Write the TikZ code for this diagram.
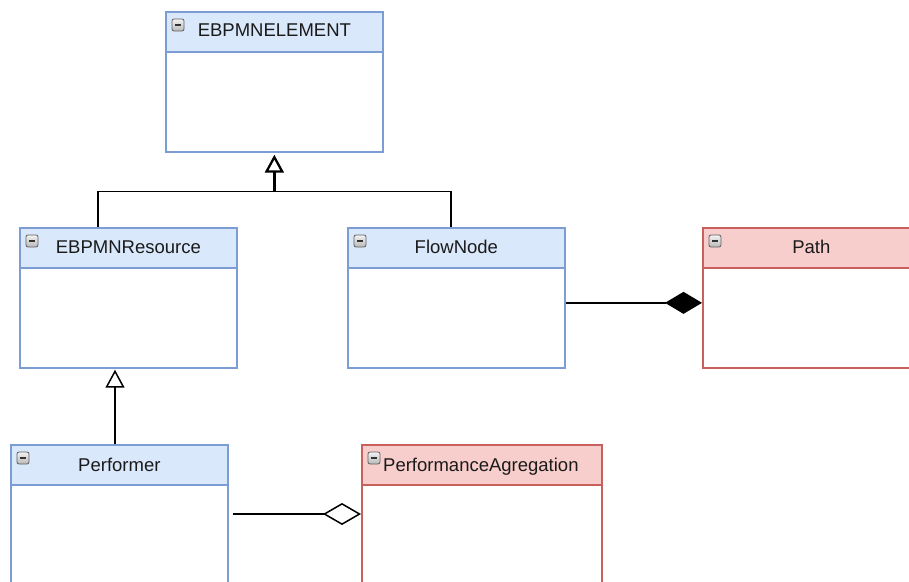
\documentclass[tikz,border=0pt]{standalone}
\usepackage{fontspec}
\setmainfont{Liberation Sans}
\usetikzlibrary{arrows.meta,calc}
\definecolor{bfill}{HTML}{DAE8FC}
\definecolor{bline}{HTML}{7C9CD4}
\definecolor{rfill}{HTML}{F8CECC}
\definecolor{rline}{HTML}{C8605C}
\definecolor{txt}{HTML}{1A1A1A}
\begin{document}
\begin{tikzpicture}[x=1pt,y=-1pt,
  bodybox/.style={draw=#1, line width=1.7pt, fill=white, rectangle, anchor=north west, inner sep=0pt},
  headbox/.style={draw=#1, line width=1.7pt, rectangle, anchor=north west, inner sep=0pt, minimum height=40pt},
  lbl/.style={text=txt, font=\fontsize{18.5}{22}\selectfont, inner sep=0pt},
  iconbox/.style={draw=gray!75!black, line width=0.8pt, rounded corners=2pt, top color=gray!10, bottom color=gray!55},
  conn/.style={draw=black, line width=1.5pt},
  genarrow/.style={-{Triangle[open, fill=white, length=18pt, width=19pt]}},
]
\useasboundingbox (0,0) rectangle (909,581);
\clip (0,0) rectangle (909,581);
\newcommand\boxicon[1]{%
  \draw[iconbox] ($(#1.north west)+(7,8)$) rectangle ++(12,12);
  \draw[line width=1.3pt, black!80] ($(#1.north west)+(10,14)$) -- ++(6,0);}

% EBPMNELEMENT
\node[bodybox=bline, minimum width=217pt, minimum height=140pt] (elem) at (165,11) {};
\node[headbox=bline, fill=bfill, minimum width=217pt] (elemh) at (165,11) {};
\boxicon{elemh}
\node[lbl, anchor=base] (elemt) at ($(elemh.north)+(0,25)$) {EBPMNELEMENT};

% EBPMNResource
\node[bodybox=bline, minimum width=217pt, minimum height=140pt] (res) at (19,227) {};
\node[headbox=bline, fill=bfill, minimum width=217pt] (resh) at (19,227) {};
\boxicon{resh}
\node[lbl, anchor=base] (rest) at ($(resh.north)+(0,26)$) {EBPMNResource};

% FlowNode
\node[bodybox=bline, minimum width=217pt, minimum height=140pt] (flow) at (347,227) {};
\node[headbox=bline, fill=bfill, minimum width=217pt] (flowh) at (347,227) {};
\boxicon{flowh}
\node[lbl, anchor=base] (flowt) at ($(flowh.north)+(0,26)$) {FlowNode};

% Path
\node[bodybox=rline, minimum width=217pt, minimum height=140pt] (path) at (702,227) {};
\node[headbox=rline, fill=rfill, minimum width=217pt] (pathh) at (702,227) {};
\boxicon{pathh}
\node[lbl, anchor=base] (patht) at ($(pathh.north)+(0,26.5)$) {Path};

% Performer
\node[bodybox=bline, minimum width=217pt, minimum height=160pt] (perf) at (10,444) {};
\node[headbox=bline, fill=bfill, minimum width=217pt] (perfh) at (10,444) {};
\boxicon{perfh}
\node[lbl, anchor=base] (perft) at ($(perfh.north)+(0,27)$) {Performer};

% PerformanceAgregation
\node[bodybox=rline, minimum width=240pt, minimum height=160pt] (agg) at (361,444) {};
\node[headbox=rline, fill=rfill, minimum width=240pt] (aggh) at (361,444) {};
\boxicon{aggh}
\node[lbl, anchor=base west] (aggt) at ($(aggh.north west)+(22,27)$) {PerformanceAgregation};

% generalization: EBPMNResource, FlowNode -> EBPMNELEMENT
\coordinate (j) at ($(elem.south)+(0,39)$);
\draw[conn] ($(res.north west)+(79,0)$) |- (j);
\draw[conn] ($(flow.north west)+(104,0)$) |- (j);
\draw[conn, line width=2.3pt, genarrow] (j) -- ($(elem.south)+(0,2)$);

% generalization: Performer -> EBPMNResource
\draw[conn, genarrow] ($(perf.north west)+(105,0)$) -- ($(res.south west)+(96,1)$);

% composition: FlowNode - Path
\draw[conn, -{Diamond[length=37pt, width=22pt, fill=black]}] ($(flow.east)+(0,5)$) -- ($(path.west)+(0,5)$);

% aggregation: Performer - PerformanceAgregation
\draw[conn, -{Diamond[open, fill=white, length=38pt, width=22pt]}] ($(perf.north east)+(4,70)$) -- ($(agg.north west)+(0,70)$);
\end{tikzpicture}
\end{document}
